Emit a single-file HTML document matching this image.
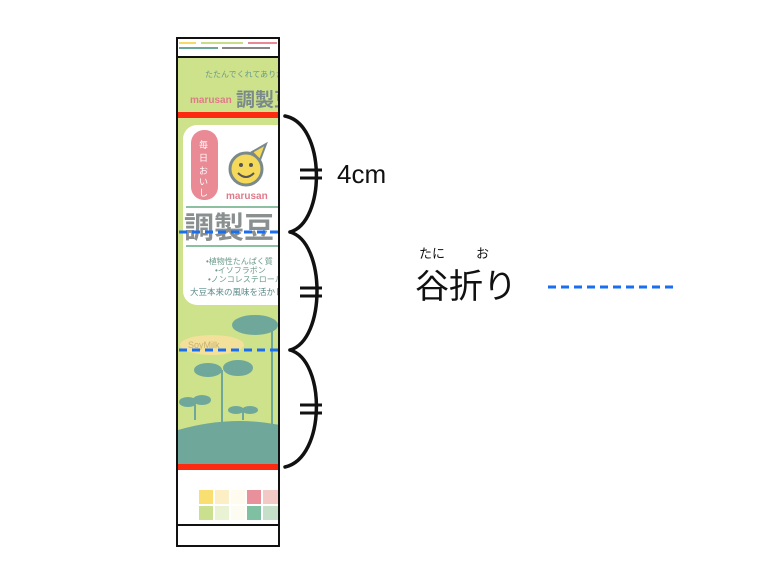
<!DOCTYPE html>
<html><head><meta charset="utf-8"><style>
html,body{margin:0;padding:0;background:#fff;width:774px;height:581px;overflow:hidden}
svg{display:block}
text{font-family:"Liberation Sans","Noto Sans CJK JP",sans-serif}
</style></head><body>
<svg width="774" height="581" viewBox="0 0 774 581" xmlns="http://www.w3.org/2000/svg">
<defs><clipPath id="c"><rect x="178" y="58" width="100" height="412"/></clipPath></defs>
<rect x="177" y="38" width="102" height="20" fill="#fff"/>
<line x1="179" y1="43" x2="196" y2="43" stroke="#f5d96a" stroke-width="2"/>
<line x1="201" y1="43" x2="243" y2="43" stroke="#c8dc8a" stroke-width="2"/>
<line x1="248" y1="43" x2="277" y2="43" stroke="#e88a95" stroke-width="2"/>
<line x1="179" y1="48" x2="218" y2="48" stroke="#6aa89a" stroke-width="2"/>
<line x1="222" y1="48" x2="270" y2="48" stroke="#888" stroke-width="2"/>
<g clip-path="url(#c)">
<rect x="178" y="58" width="100" height="412" fill="#cde28a"/>
<text x="205" y="77" font-size="8" fill="#6a9a8a">たたんでくれてありがとう</text>
<text x="190" y="103" font-size="10" font-weight="bold" fill="#e07a8a">marusan</text>
<text x="236" y="106" font-size="19" font-weight="bold" fill="#7a8a8a">調製豆乳</text>
<rect x="183" y="125" width="110" height="180" rx="14" fill="#fff"/>
<rect x="191" y="130" width="27" height="70" rx="13" fill="#ea8a95"/>
<text x="199" y="148" font-size="9" fill="#fff">毎</text>
<text x="199" y="161" font-size="9" fill="#fff">日</text>
<text x="199" y="174" font-size="9" fill="#fff">お</text>
<text x="199" y="185" font-size="9" fill="#fff">い</text>
<text x="199" y="196" font-size="9" fill="#fff">し</text>
<circle cx="246" cy="169" r="16" fill="#f5d95a" stroke="#7a8a8a" stroke-width="3"/>
<circle cx="241" cy="165" r="2" fill="#555"/><circle cx="251" cy="165" r="2" fill="#555"/>
<path d="M238 173 Q246 181 254 173" stroke="#555" stroke-width="2" fill="none"/>
<polygon points="252,152 266,144 260,160" fill="#f5d95a" stroke="#7a8a8a" stroke-width="2"/>
<text x="226" y="199" font-size="10" font-weight="bold" fill="#e07a8a">marusan</text>
<line x1="186" y1="207" x2="280" y2="207" stroke="#8cc0a0" stroke-width="2"/>
<text x="184" y="238" font-size="30" font-weight="bold" fill="#8a9090">調製豆</text>
<line x1="186" y1="246" x2="280" y2="246" stroke="#8cc0a0" stroke-width="2"/>
<text x="206" y="264" font-size="8" fill="#6a9a8a">•植物性たんぱく質</text>
<text x="215" y="273" font-size="8" fill="#6a9a8a">•イソフラボン</text>
<text x="208" y="282" font-size="8" fill="#6a9a8a">•ノンコレステロール</text>
<text x="190" y="295" font-size="8.5" fill="#5a8a8a">大豆本来の風味を活かし</text>
<ellipse cx="212" cy="345" rx="32" ry="10" fill="#f3e09a"/>
<text x="188" y="348" font-size="9" fill="#c9b070">SoyMilk</text>
<path d="M178 430 Q230 415 280 425 L280 470 L178 470 Z" fill="#6fa89a"/>
<g fill="#6fa89a" stroke="#6fa89a" stroke-width="2">
<line x1="222" y1="440" x2="222" y2="370"/><ellipse cx="208" cy="370" rx="13" ry="6"/><ellipse cx="238" cy="368" rx="14" ry="7"/>
<line x1="272" y1="430" x2="272" y2="330"/><ellipse cx="255" cy="325" rx="22" ry="9"/>
<line x1="195" y1="420" x2="195" y2="405"/><ellipse cx="188" cy="402" rx="8" ry="4"/><ellipse cx="202" cy="400" rx="8" ry="4"/>
<line x1="243" y1="420" x2="243" y2="410"/><ellipse cx="236" cy="410" rx="7" ry="3"/><ellipse cx="250" cy="410" rx="7" ry="3"/>
</g>
<rect x="178" y="464" width="100" height="6" fill="#fb2a10"/>
<rect x="178" y="112" width="100" height="6" fill="#fb2a10"/>
</g>
<g>
<rect x="199" y="490" width="14" height="14" fill="#f9de72"/><rect x="215" y="490" width="14" height="14" fill="#fcefc5"/><rect x="231" y="490" width="14" height="14" fill="#fffcef"/><rect x="247" y="490" width="14" height="14" fill="#e9919a"/><rect x="263" y="490" width="15" height="14" fill="#f3c9c5"/>
<rect x="199" y="506" width="14" height="14" fill="#cbe08f"/><rect x="215" y="506" width="14" height="14" fill="#eaf2d4"/><rect x="231" y="506" width="14" height="14" fill="#fcfcf2"/><rect x="247" y="506" width="14" height="14" fill="#7fc0a2"/><rect x="263" y="506" width="15" height="14" fill="#c5dfc9"/>
</g>
<rect x="177" y="38" width="102" height="508" fill="none" stroke="#111" stroke-width="2"/>
<line x1="177" y1="57" x2="279" y2="57" stroke="#111" stroke-width="2"/>
<line x1="177" y1="525" x2="279" y2="525" stroke="#111" stroke-width="2"/>
<line x1="179" y1="232" x2="279" y2="232" stroke="#1a6ef0" stroke-width="3" stroke-dasharray="8,5"/>
<line x1="179" y1="350" x2="279" y2="350" stroke="#1a6ef0" stroke-width="3" stroke-dasharray="8,5"/>
<g fill="none" stroke="#111" stroke-width="3.5" stroke-linecap="round">
<path d="M285 116 C326 124 326 222 290 232"/>
<path d="M290 232 C326 242 326 340 290 350"/>
<path d="M290 350 C326 360 326 458 285 467"/>
</g>
<g stroke="#111" stroke-width="3">
<line x1="300" y1="170" x2="322" y2="170"/><line x1="300" y1="178" x2="322" y2="178"/>
<line x1="300" y1="288" x2="322" y2="288"/><line x1="300" y1="296" x2="322" y2="296"/>
<line x1="300" y1="405" x2="322" y2="405"/><line x1="300" y1="413" x2="322" y2="413"/>
</g>
<text x="337" y="183" font-size="26" fill="#111">4cm</text>
<text x="419" y="258" font-size="13" fill="#111">たに</text>
<text x="476" y="258" font-size="13" fill="#111">お</text>
<text x="415" y="298" font-size="34" fill="#111">谷折り</text>
<line x1="548" y1="287" x2="673" y2="287" stroke="#1a6ef0" stroke-width="3" stroke-dasharray="8,5"/>
</svg>
</body></html>
